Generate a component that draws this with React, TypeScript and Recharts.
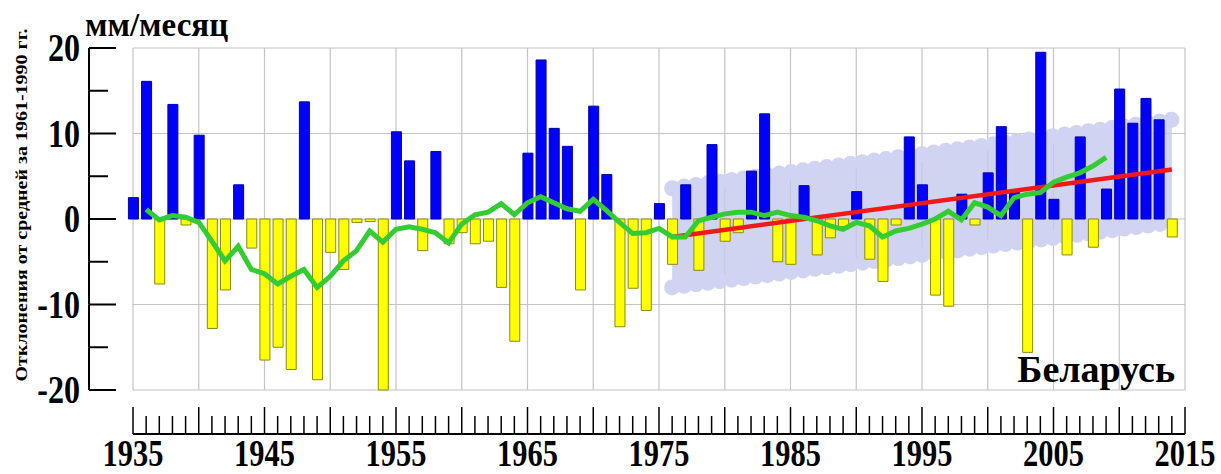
import {
  ComposedChart,
  Bar,
  Cell,
  Line,
  Area,
  XAxis,
  YAxis,
  CartesianGrid,
} from "recharts";

// years 1935..2014, one bar each
const firstYear = 1935;
const anomalies = [
  2.5, 16.1, -7.6, 13.4, -0.7, 9.8, -12.8, -8.3, 4.0, -3.4,
  -16.5, -15.0, -17.6, 13.7, -18.8, -3.9, -5.9, -0.4, -0.3, -20.0,
  10.2, 6.8, -3.7, 7.9, -2.9, -1.6, -2.9, -2.6, -8.0, -14.3,
  7.7, 18.6, 10.6, 8.5, -8.3, 13.2, 5.2, -12.6, -8.1, -10.7,
  1.8, -5.3, 4.0, -6.0, 8.7, -2.6, -1.6, 5.6, 12.3, -5.0,
  -5.3, 3.9, -4.2, -2.2, -0.9, 3.2, -4.7, -7.3, -0.7, 9.6,
  4.0, -8.9, -10.2, 2.9, -0.7, 5.4, 10.8, 3.1, -15.6, 19.5,
  2.3, -4.2, 9.6, -3.3, 3.5, 15.2, 11.2, 14.1, 11.6, -2.1,
];

// running mean, 1936..2009
const smoothStart = 1936;
const smoothed = [
  1.1, -0.1, 0.4, 0.2, -0.4, -2.6, -4.9, -3.2, -5.9,
  -6.4, -7.6, -6.7, -5.9, -8.0, -6.7, -4.9, -3.7, -1.4, -2.7,
  -1.2, -0.9, -1.2, -1.6, -2.8, -0.6, 0.5, 0.8, 1.8, 0.5,
  1.9, 2.6, 1.9, 1.2, 0.9, 2.3, 1.0, -0.4, -1.7, -1.6,
  -1.1, -2.1, -2.1, -0.2, 0.2, 0.6, 0.8, 0.8, 0.4, 0.8,
  0.4, 0.2, -0.2, -0.8, -1.2, -0.4, -0.8, -2.1, -1.4, -1.1,
  -0.6, 0.0, 0.9, -0.1, 1.9, 1.4, 0.4, 2.5, 2.9, 3.1,
  4.3, 4.9, 5.4, 6.2, 7.2,
];

// linear trend 1976-2014 and its band
const trendYears = [1976, 2014];
const trendValues = [-2.1, 5.8];
const bandLow = [-8.0, -0.4];
const bandHigh = [3.6, 11.6];

const yTicks = [-20, -15, -10, -5, 0, 5, 10, 15, 20];
const gridValues = [-20, -10, 0, 10, 20];
const gridYears = [1935, 1940, 1945, 1950, 1955, 1960, 1965, 1970, 1975, 1980, 1985, 1990, 1995, 2000, 2005, 2010, 2015];
const labelYears = [1935, 1945, 1955, 1965, 1975, 1985, 1995, 2005, 2015];
const lastYear = 2015;
const tickYears = Array.from({ length: lastYear - firstYear + 1 }, (_, i) => firstYear + i);

const data = anomalies.map((v, i) => {
  const year = firstYear + i;
  const s = year - smoothStart;
  const t = trendYears.indexOf(year);
  return {
    year,
    value: v,
    smooth: s >= 0 && s < smoothed.length ? smoothed[s] : null,
    trend: t >= 0 ? trendValues[t] : null,
    band: t >= 0 ? [bandLow[t], bandHigh[t]] : null,
  };
});

const W = 1221;
const H = 474;
const PLOT_TOP = 48;
const PLOT_BOTTOM = 390;
const PLOT_LEFT = 133;
const PLOT_RIGHT = 1185;
const YEAR_PX = (PLOT_RIGHT - PLOT_LEFT) / (lastYear - firstYear);
const STEP_PX = (PLOT_BOTTOM - PLOT_TOP) / (yTicks.length - 1);
const FONT = '"Liberation Serif", "Times New Roman", serif';

function YearTick(props: any) {
  const { x, y, payload } = props;
  const v = payload.value as number;
  const base = y + 44;
  const major = v % 5 === 0;
  return (
    <g>
      <line x1={x} y1={base} x2={x} y2={base - (major ? 27 : 18)} stroke="#000" strokeWidth={1.5} />
      {v < lastYear && (
        <line x1={x} y1={base} x2={x + YEAR_PX} y2={base} stroke="#000" strokeWidth={2} />
      )}
      {labelYears.includes(v) && (
        <text
          transform={`translate(${x},${y + 76}) scale(0.8,1)`}
          textAnchor="middle"
          fontFamily={FONT}
          fontWeight="bold"
          fontSize={38}
          fill="#000"
        >
          {v}
        </text>
      )}
    </g>
  );
}

function ValueTick(props: any) {
  const { x, y, payload } = props;
  const v = payload.value as number;
  const ax = x - 44;
  const major = v % 10 === 0;
  return (
    <g>
      {v > -20 && <line x1={ax} y1={y} x2={ax} y2={y + STEP_PX} stroke="#000" strokeWidth={2} />}
      <line x1={ax} y1={y} x2={ax + (major ? 27 : 19)} y2={y} stroke="#000" strokeWidth={2} />
      {major && (
        <text
          transform={`translate(${ax - 9},${y + 13}) scale(0.8,1)`}
          textAnchor="end"
          fontFamily={FONT}
          fontWeight="bold"
          fontSize={40}
          fill="#000"
        >
          {v}
        </text>
      )}
    </g>
  );
}

export default function App() {
  return (
    <div style={{ position: "absolute", left: 0, top: 0, width: W, height: H, background: "#fff" }}>
      <ComposedChart
        width={W}
        height={H}
        data={data}
        margin={{ top: PLOT_TOP, right: W - PLOT_RIGHT, bottom: 0, left: 0 }}
      >
        <CartesianGrid
          stroke="#c4c4c4"
          strokeWidth={1.2}
          verticalValues={gridYears}
          horizontalValues={gridValues}
        />
        <XAxis
          dataKey="year"
          type="number"
          domain={[firstYear, lastYear]}
          ticks={tickYears}
          interval={0}
          height={H - PLOT_BOTTOM}
          tickSize={0}
          tickMargin={0}
          axisLine={false}
          tickLine={false}
          tick={(p: any) => <YearTick {...p} />}
        />
        <YAxis
          type="number"
          domain={[-20, 20]}
          ticks={yTicks}
          interval={0}
          width={PLOT_LEFT}
          tickSize={0}
          tickMargin={0}
          axisLine={false}
          tickLine={false}
          tick={(p: any) => <ValueTick {...p} />}
        />
        <Area
          dataKey="band"
          type="linear"
          connectNulls
          fill="#c6c9ee"
          fillOpacity={0.8}
          stroke="#d0d3f1"
          strokeWidth={16}
          strokeDasharray="0 12"
          strokeLinecap="round"
          strokeLinejoin="round"
          isAnimationActive={false}
        />
        <Bar dataKey="value" barSize={10} isAnimationActive={false}>
          {data.map((d) => (
            <Cell
              key={d.year}
              fill={d.value >= 0 ? "#0000ff" : "#ffff00"}
              stroke={d.value >= 0 ? "#0000b0" : "#8a8a10"}
              strokeWidth={1}
            />
          ))}
        </Bar>
        <Line
          dataKey="trend"
          type="linear"
          connectNulls
          stroke="#f01818"
          strokeWidth={4.5}
          dot={false}
          isAnimationActive={false}
        />
        <Line
          dataKey="smooth"
          type="linear"
          stroke="#33cc33"
          strokeWidth={5}
          dot={false}
          isAnimationActive={false}
        />
      </ComposedChart>
      <svg
        width={W}
        height={H}
        style={{ position: "absolute", left: 0, top: 0, pointerEvents: "none" }}
      >
        <text x={85} y={36} fontFamily={FONT} fontWeight="bold" fontSize={33} fill="#000">
          мм/месяц
        </text>
        <text
          transform="translate(27,205) rotate(-90) scale(1,0.85)"
          textAnchor="middle"
          fontFamily={FONT}
          fontWeight="bold"
          fontSize={20}
          fill="#000"
        >
          Отклонения от средней за 1961-1990 гг.
        </text>
        <text
          x={1175}
          y={382}
          textAnchor="end"
          fontFamily={FONT}
          fontWeight="bold"
          fontSize={38}
          fill="#000"
        >
          Беларусь
        </text>
      </svg>
    </div>
  );
}
